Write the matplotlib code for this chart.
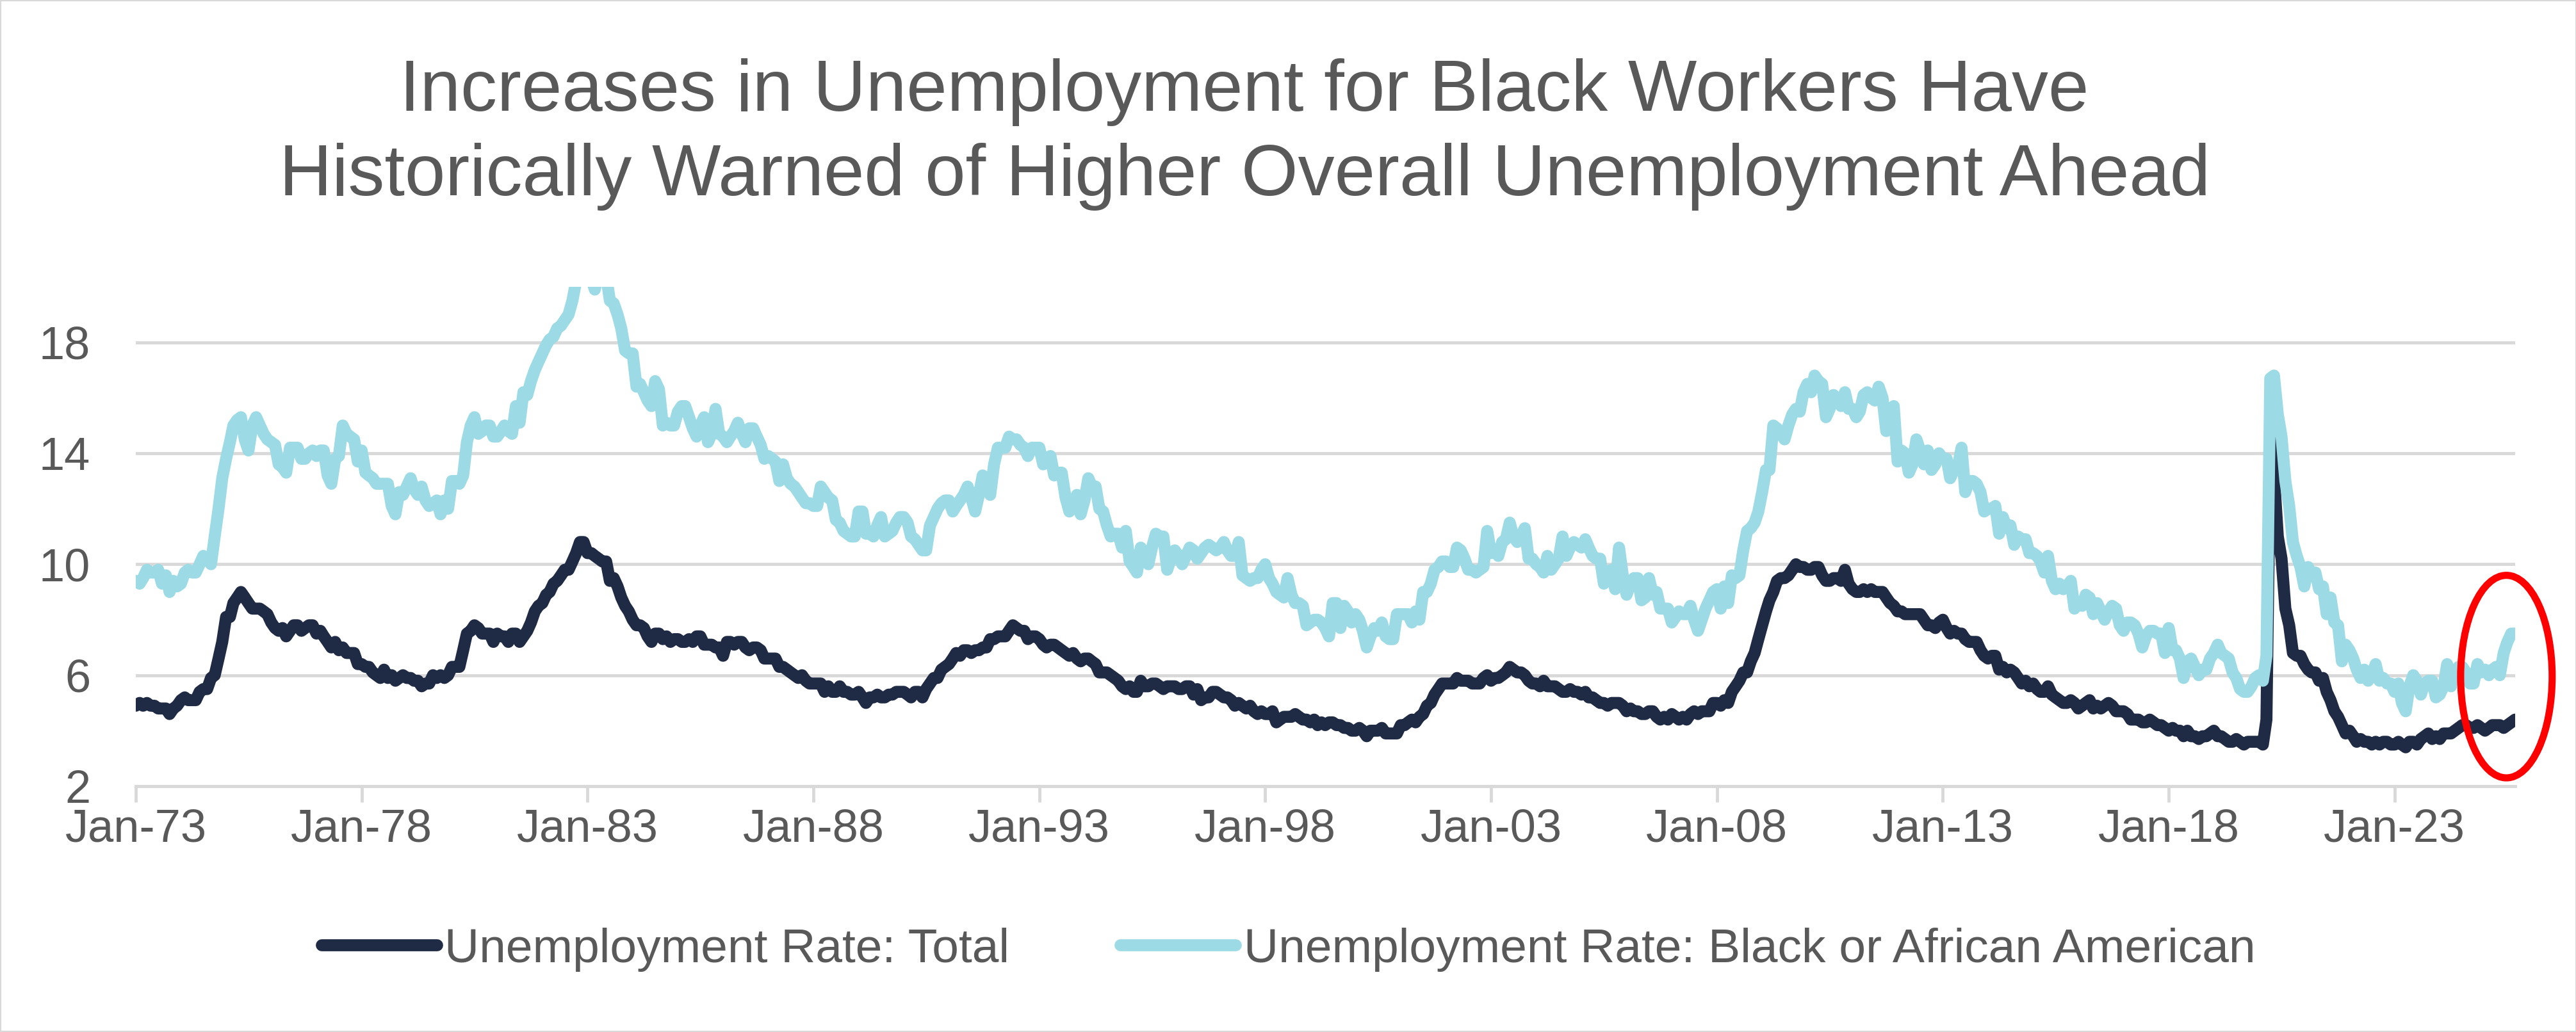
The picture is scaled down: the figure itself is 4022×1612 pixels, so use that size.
import pandas as pd
import matplotlib
matplotlib.use("Agg")
import matplotlib.pyplot as plt
import matplotlib.dates as mdates
from matplotlib.patches import Ellipse, Rectangle

plt.rcParams['font.family'] = ['Liberation Sans', 'DejaVu Sans']
plt.rcParams['lines.solid_capstyle'] = 'round'
plt.rcParams['lines.solid_joinstyle'] = 'round'

# monthly, Jan 1973 .. Sep 2025
dates = pd.date_range('1973-01-01', '2025-09-01', freq='MS')

total_rate = [
    4.9, 5.0, 4.9, 5.0, 4.9, 4.9, 4.8, 4.8, 4.8, 4.6, 4.8, 4.9,  # 1973
    5.1, 5.2, 5.1, 5.1, 5.1, 5.4, 5.5, 5.5, 5.9, 6.0, 6.6, 7.2,
    8.1, 8.1, 8.6, 8.8, 9.0, 8.8, 8.6, 8.4, 8.4, 8.4, 8.3, 8.2,
    7.9, 7.7, 7.6, 7.7, 7.4, 7.6, 7.8, 7.8, 7.6, 7.7, 7.8, 7.8,
    7.5, 7.6, 7.4, 7.2, 7.0, 7.2, 6.9, 7.0, 6.8, 6.8, 6.8, 6.4,
    6.4, 6.3, 6.3, 6.1, 6.0, 5.9, 6.2, 5.9, 6.0, 5.8, 5.9, 6.0,  # 1978
    5.9, 5.9, 5.8, 5.8, 5.6, 5.7, 5.7, 6.0, 5.9, 6.0, 5.9, 6.0,
    6.3, 6.3, 6.3, 6.9, 7.5, 7.6, 7.8, 7.7, 7.5, 7.5, 7.5, 7.2,
    7.5, 7.4, 7.4, 7.2, 7.5, 7.5, 7.2, 7.4, 7.6, 7.9, 8.3, 8.5,
    8.6, 8.9, 9.0, 9.3, 9.4, 9.6, 9.8, 9.8, 10.1, 10.4, 10.8, 10.8,
    10.4, 10.4, 10.3, 10.2, 10.1, 10.1, 9.4, 9.5, 9.2, 8.8, 8.5, 8.3,  # 1983
    8.0, 7.8, 7.8, 7.7, 7.4, 7.2, 7.5, 7.5, 7.3, 7.4, 7.2, 7.3,
    7.3, 7.2, 7.2, 7.3, 7.2, 7.4, 7.4, 7.1, 7.1, 7.1, 7.0, 7.0,
    6.7, 7.2, 7.2, 7.1, 7.2, 7.2, 7.0, 6.9, 7.0, 7.0, 6.9, 6.6,
    6.6, 6.6, 6.6, 6.3, 6.3, 6.2, 6.1, 6.0, 5.9, 6.0, 5.8, 5.7,
    5.7, 5.7, 5.7, 5.4, 5.6, 5.4, 5.4, 5.6, 5.4, 5.4, 5.3, 5.3,  # 1988
    5.4, 5.2, 5.0, 5.2, 5.2, 5.3, 5.2, 5.2, 5.3, 5.3, 5.4, 5.4,
    5.4, 5.3, 5.2, 5.4, 5.4, 5.2, 5.5, 5.7, 5.9, 5.9, 6.2, 6.3,
    6.4, 6.6, 6.8, 6.7, 6.9, 6.9, 6.8, 6.9, 6.9, 7.0, 7.0, 7.3,
    7.3, 7.4, 7.4, 7.4, 7.6, 7.8, 7.7, 7.6, 7.6, 7.3, 7.4, 7.4,
    7.3, 7.1, 7.0, 7.1, 7.1, 7.0, 6.9, 6.8, 6.7, 6.8, 6.6, 6.5,  # 1993
    6.6, 6.6, 6.5, 6.4, 6.1, 6.1, 6.1, 6.0, 5.9, 5.8, 5.6, 5.5,
    5.6, 5.4, 5.4, 5.8, 5.6, 5.6, 5.7, 5.7, 5.6, 5.5, 5.6, 5.6,
    5.6, 5.5, 5.5, 5.6, 5.6, 5.3, 5.5, 5.1, 5.2, 5.2, 5.4, 5.4,
    5.3, 5.2, 5.2, 5.1, 4.9, 5.0, 4.9, 4.8, 4.9, 4.7, 4.6, 4.7,
    4.6, 4.6, 4.7, 4.3, 4.4, 4.5, 4.5, 4.5, 4.6, 4.5, 4.4, 4.4,  # 1998
    4.3, 4.4, 4.2, 4.3, 4.2, 4.3, 4.3, 4.2, 4.2, 4.1, 4.1, 4.0,
    4.0, 4.1, 4.0, 3.8, 4.0, 4.0, 4.0, 4.1, 3.9, 3.9, 3.9, 3.9,
    4.2, 4.2, 4.3, 4.4, 4.3, 4.5, 4.6, 4.9, 5.0, 5.3, 5.5, 5.7,
    5.7, 5.7, 5.7, 5.9, 5.8, 5.8, 5.8, 5.7, 5.7, 5.7, 5.9, 6.0,
    5.8, 5.9, 5.9, 6.0, 6.1, 6.3, 6.2, 6.1, 6.1, 6.0, 5.8, 5.7,  # 2003
    5.7, 5.6, 5.8, 5.6, 5.6, 5.6, 5.5, 5.4, 5.4, 5.5, 5.4, 5.4,
    5.3, 5.4, 5.2, 5.2, 5.1, 5.0, 5.0, 4.9, 5.0, 5.0, 5.0, 4.9,
    4.7, 4.8, 4.7, 4.7, 4.6, 4.6, 4.7, 4.7, 4.5, 4.4, 4.5, 4.4,
    4.6, 4.5, 4.4, 4.5, 4.4, 4.6, 4.7, 4.6, 4.7, 4.7, 4.7, 5.0,
    5.0, 4.9, 5.1, 5.0, 5.4, 5.6, 5.8, 6.1, 6.1, 6.5, 6.8, 7.3,  # 2008
    7.8, 8.3, 8.7, 9.0, 9.4, 9.5, 9.5, 9.6, 9.8, 10.0, 9.9, 9.9,
    9.8, 9.8, 9.9, 9.9, 9.6, 9.4, 9.4, 9.5, 9.5, 9.4, 9.8, 9.3,
    9.1, 9.0, 9.0, 9.1, 9.0, 9.1, 9.0, 9.0, 9.0, 8.8, 8.6, 8.5,
    8.3, 8.3, 8.2, 8.2, 8.2, 8.2, 8.2, 8.0, 7.8, 7.8, 7.7, 7.9,
    8.0, 7.7, 7.5, 7.6, 7.5, 7.5, 7.3, 7.2, 7.2, 7.2, 6.9, 6.7,  # 2013
    6.6, 6.7, 6.7, 6.2, 6.3, 6.1, 6.2, 6.1, 5.9, 5.7, 5.8, 5.6,
    5.7, 5.5, 5.4, 5.4, 5.6, 5.3, 5.2, 5.1, 5.0, 5.0, 5.1, 5.0,
    4.8, 4.9, 5.0, 5.1, 4.8, 4.9, 4.8, 4.9, 5.0, 4.9, 4.7, 4.7,
    4.7, 4.6, 4.4, 4.4, 4.4, 4.3, 4.3, 4.4, 4.3, 4.2, 4.2, 4.1,
    4.0, 4.1, 4.0, 4.0, 3.8, 4.0, 3.8, 3.8, 3.7, 3.8, 3.8, 3.9,  # 2018
    4.0, 3.8, 3.8, 3.7, 3.6, 3.6, 3.7, 3.6, 3.5, 3.6, 3.6, 3.6,
    3.6, 3.5, 4.4, 14.8, 13.2, 11.0, 10.2, 8.4, 7.8, 6.8, 6.7, 6.7,
    6.4, 6.2, 6.1, 6.1, 5.8, 5.9, 5.4, 5.1, 4.7, 4.5, 4.2, 3.9,
    4.0, 3.8, 3.6, 3.7, 3.6, 3.6, 3.5, 3.6, 3.5, 3.6, 3.6, 3.5,
    3.5, 3.6, 3.5, 3.4, 3.6, 3.6, 3.5, 3.7, 3.8, 3.9, 3.7, 3.8,  # 2023
    3.7, 3.9, 3.9, 3.9, 4.0, 4.1, 4.2, 4.2, 4.1, 4.1, 4.2, 4.1,
    4.0, 4.1, 4.2, 4.2, 4.2, 4.1, 4.2, 4.3, 4.4,
]

black_rate = [
    9.4, 9.3, 9.5, 9.8, 9.7, 9.7, 9.8, 9.3, 9.6, 9.0, 9.4, 9.2,  # 1973
    9.3, 9.7, 9.8, 9.7, 9.7, 10.0, 10.3, 10.2, 10.0, 11.0, 12.0, 13.1,
    13.8, 14.4, 15.0, 15.2, 15.3, 14.5, 14.1, 15.0, 15.3, 15.0, 14.7, 14.5,
    14.4, 14.3, 13.6, 13.5, 13.3, 14.2, 14.2, 14.2, 13.8, 13.8, 14.0, 14.1,
    13.9, 14.1, 14.1, 13.2, 12.9, 13.8, 13.9, 15.0, 14.7, 14.6, 14.5, 13.7,
    14.1, 13.3, 13.2, 13.1, 12.9, 12.9, 12.9, 12.9, 12.1, 11.8, 12.6, 12.5,  # 1978
    12.8, 13.1, 12.7, 12.5, 12.8, 12.3, 12.1, 12.2, 12.3, 11.8, 12.3, 12.0,
    13.0, 13.0, 12.9, 13.2, 14.4, 15.0, 15.3, 14.7, 14.8, 15.0, 15.0, 14.6,
    14.6, 14.8, 15.0, 14.8, 14.7, 15.7, 15.1, 16.2, 16.1, 16.6, 17.0, 17.3,
    17.6, 17.9, 18.1, 18.2, 18.5, 18.6, 18.8, 19.0, 19.5, 20.2, 20.4, 20.8,
    21.2, 20.3, 19.9, 20.5, 20.6, 20.4, 19.5, 19.4, 19.0, 18.5, 17.7, 17.6,  # 1983
    17.6, 16.4, 16.5, 16.2, 15.9, 15.7, 16.6, 16.3, 15.0, 15.1, 15.0, 15.0,
    15.5, 15.7, 15.7, 15.3, 14.9, 14.6, 15.0, 15.3, 14.4, 14.7, 15.6, 14.7,
    14.6, 14.4, 14.6, 14.8, 15.1, 14.7, 14.4, 14.9, 14.9, 14.6, 14.3, 13.8,
    13.9, 13.8, 13.7, 13.0, 13.6, 13.1, 12.9, 12.8, 12.6, 12.4, 12.2, 12.2,
    12.1, 12.1, 12.8, 12.6, 12.4, 12.3, 11.6, 11.5, 11.2, 11.1, 11.0, 11.0,  # 1988
    11.9, 11.9, 11.1, 11.1, 11.0, 11.4, 11.7, 11.0, 11.1, 11.2, 11.5, 11.7,
    11.7, 11.5, 11.0, 10.9, 10.7, 10.5, 10.5, 11.4, 11.7, 12.0, 12.2, 12.3,
    12.3, 11.9, 12.1, 12.3, 12.5, 12.8, 12.4, 11.9, 12.5, 13.2, 13.0, 12.5,
    13.6, 14.2, 14.2, 14.2, 14.6, 14.5, 14.5, 14.3, 14.2, 13.9, 14.2, 14.2,
    14.2, 13.6, 13.7, 13.9, 13.2, 13.3, 13.3, 12.4, 11.9, 12.2, 12.5, 11.8,  # 1993
    12.3, 13.1, 12.8, 12.8, 12.0, 11.9, 11.4, 11.0, 11.1, 11.1, 10.6, 11.2,
    10.1, 9.9, 9.7, 10.6, 10.3, 10.0, 10.6, 11.1, 11.0, 11.0, 9.8, 10.2,
    10.5, 10.3, 10.0, 10.3, 10.6, 10.5, 10.2, 10.4, 10.6, 10.7, 10.6, 10.5,
    10.6, 10.8, 10.5, 10.3, 10.3, 10.8, 9.6, 9.5, 9.4, 9.5, 9.5, 9.8,
    10.0, 9.5, 9.3, 9.0, 8.9, 8.8, 9.5, 8.9, 8.6, 8.6, 8.5, 7.8,  # 1998
    7.9, 8.0, 8.0, 7.9, 7.7, 7.4, 8.6, 8.6, 7.7, 8.5, 8.3, 7.9,
    8.2, 8.0, 7.6, 7.0, 7.4, 7.7, 7.6, 7.9, 7.4, 7.3, 7.3, 8.2,
    8.2, 8.2, 8.2, 7.9, 8.3, 8.0, 9.0, 9.0, 9.3, 9.8, 9.9, 10.1,
    10.1, 9.9, 9.9, 10.6, 10.5, 10.2, 9.8, 9.8, 9.7, 9.8, 9.9, 11.2,
    10.4, 10.5, 10.3, 10.8, 10.9, 11.5, 11.0, 10.8, 11.0, 11.3, 10.2, 10.2,  # 2003
    10.0, 9.9, 9.7, 10.3, 9.8, 10.0, 10.2, 11.0, 10.3, 10.6, 10.8, 10.7,
    10.6, 10.9, 10.6, 10.3, 10.2, 10.2, 9.3, 9.5, 9.8, 9.1, 10.6, 9.6,
    8.9, 9.3, 9.5, 9.5, 8.7, 8.8, 9.5, 8.9, 9.0, 8.4, 8.4, 8.4,
    7.9, 8.1, 8.3, 8.2, 8.2, 8.5, 8.0, 7.6, 8.0, 8.4, 8.7, 9.0,
    9.1, 8.4, 9.2, 8.6, 9.6, 9.5, 9.6, 10.5, 11.2, 11.3, 11.5, 11.9,  # 2008
    12.6, 13.4, 13.4, 15.0, 14.9, 14.7, 14.5, 15.0, 15.4, 15.6, 15.5, 16.2,
    16.5, 16.2, 16.8, 16.6, 16.5, 15.3, 15.6, 16.1, 15.9, 15.7, 16.2, 15.6,
    15.6, 15.3, 15.5, 16.1, 16.2, 16.0, 15.9, 16.4, 16.0, 14.8, 15.2, 15.7,
    13.7, 14.1, 14.0, 13.3, 13.6, 14.5, 14.1, 13.6, 14.1, 13.4, 13.6, 14.0,
    13.8, 13.8, 13.1, 13.4, 13.5, 14.2, 12.6, 13.0, 13.0, 12.9, 12.6, 11.9,  # 2013
    12.0, 12.0, 12.1, 11.1, 11.7, 11.3, 11.4, 10.7, 11.0, 10.9, 10.9, 10.4,
    10.4, 10.3, 10.1, 9.7, 10.3, 9.4, 9.1, 9.3, 9.1, 9.2, 9.4, 8.4,
    8.6, 8.5, 8.9, 8.8, 8.2, 8.6, 8.3, 8.0, 8.3, 8.5, 8.4, 7.8,
    7.6, 7.9, 7.9, 7.8, 7.5, 7.0, 7.4, 7.6, 7.6, 7.5, 7.5, 6.8,
    7.7, 6.9, 6.9, 6.6, 5.9, 6.5, 6.6, 6.3, 6.0, 6.2, 6.2, 6.6,  # 2018
    6.8, 7.1, 6.8, 6.7, 6.6, 6.1, 5.9, 5.5, 5.4, 5.4, 5.6, 5.9,
    6.0, 5.8, 6.7, 16.7, 16.8, 15.4, 14.6, 13.0, 12.1, 10.8, 10.3, 9.9,
    9.2, 9.9, 9.6, 9.7, 9.1, 9.2, 8.2, 8.8, 7.9, 7.8, 6.5, 7.1,
    6.9, 6.6, 6.2, 5.9, 6.2, 5.8, 6.0, 6.4, 5.8, 5.9, 5.7, 5.7,
    5.4, 5.7, 5.0, 4.7, 5.6, 6.0, 5.8, 5.3, 5.7, 5.8, 5.8, 5.2,  # 2023
    5.3, 5.6, 6.4, 5.6, 6.1, 6.3, 6.3, 6.1, 5.7, 5.7, 6.4, 6.1,
    6.2, 6.0, 6.2, 6.3, 6.0, 6.8, 7.2, 7.5, 7.5,
]

y_ticks = [2, 6, 10, 14, 18]
x_tick_years = list(range(1973, 2024, 5))

title_lines = ["Increases in Unemployment for Black Workers Have",
               "Historically Warned of Higher Overall Unemployment Ahead"]
series_labels = ["Unemployment Rate: Total",
                 "Unemployment Rate: Black or African American"]

NAVY = '#1F2A44'
LIGHT = '#9CDBE6'
GRID = '#D9D9D9'
TEXT = '#595959'

fig = plt.figure(figsize=(40.23, 16.12), dpi=100)
ax = fig.add_axes([0.0527, 0.2382, 0.9234, 0.4839])

ax.plot(dates, total_rate, color=NAVY, lw=13.5, label=series_labels[0], zorder=3)
ax.plot(dates, black_rate, color=LIGHT, lw=13.5, label=series_labels[1], zorder=4)

ax.set_xlim(dates[0], dates[-1])
ax.set_ylim(2, 20)
ax.set_yticks(y_ticks)
ax.set_xticks([pd.Timestamp(f'{y}-01-01') for y in x_tick_years])
ax.xaxis.set_major_formatter(mdates.DateFormatter('%b-%y'))

ax.grid(axis='y', color=GRID, lw=3.5, zorder=0)
for s in ['top', 'right', 'left']:
    ax.spines[s].set_visible(False)
ax.spines['bottom'].set_color(GRID)
ax.spines['bottom'].set_linewidth(3.5)
ax.tick_params(axis='y', length=0, pad=51, labelsize=52, labelcolor=TEXT)
ax.tick_params(axis='x', length=18, width=3.5, color=GRID, pad=7,
               labelsize=52, labelcolor=TEXT)

# red circle around the latest readings
last_x = mdates.date2num(dates[-1])
mid_y = (black_rate[-1] + total_rate[-1]) / 2
ax.add_patch(Ellipse((last_x - 70, mid_y), 740, 7.3, fill=False,
                     edgecolor='#FF0000', lw=8, clip_on=False, zorder=6))

fig.text(0.483, 1 - 144 / 1612, title_lines[0], ha='center', va='center',
         fontsize=82, color=TEXT)
fig.text(0.483, 1 - 276 / 1612, title_lines[1], ha='center', va='center',
         fontsize=82, color=TEXT)

fig.legend(loc='center', bbox_to_anchor=(0.5, 1 - 1483 / 1612), ncol=2,
           frameon=False, fontsize=54, labelcolor=TEXT, handlelength=2.4,
           handletextpad=0.17, columnspacing=2.3)

fig.patches.append(Rectangle((0, 0), 1, 1, transform=fig.transFigure,
                             fill=False, edgecolor=GRID, lw=3))

fig.savefig('out.png', dpi=100)
